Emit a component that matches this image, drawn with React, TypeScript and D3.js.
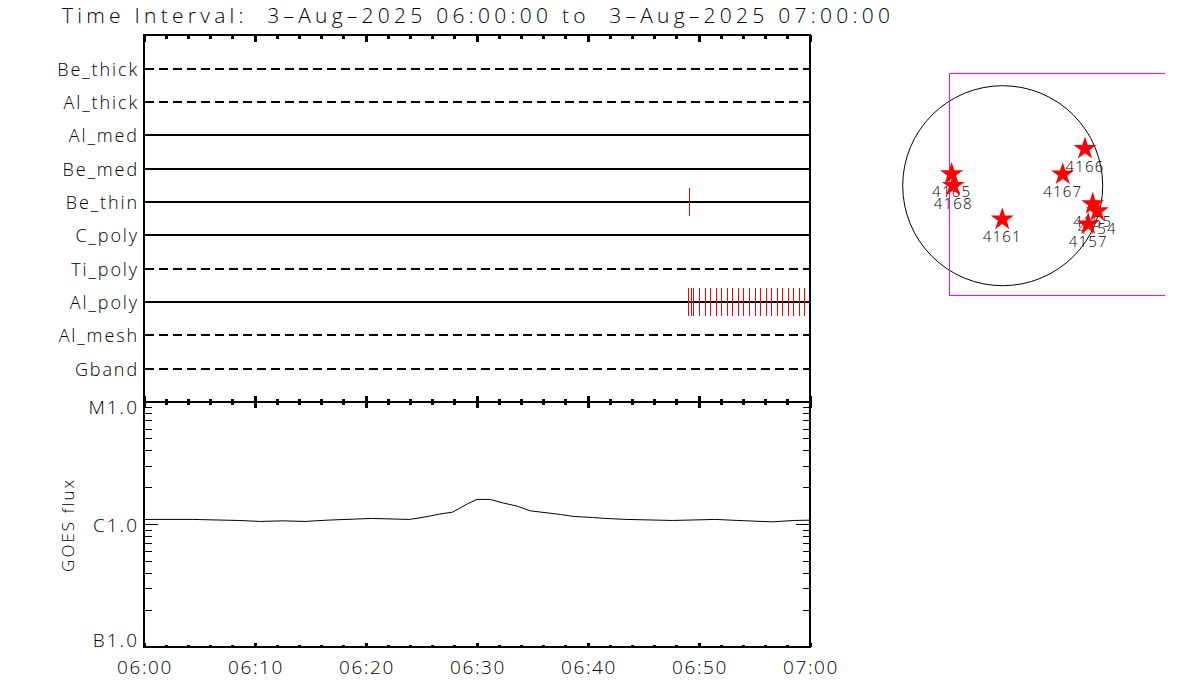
import * as d3 from 'd3';

const filters = ['Be_thick', 'Al_thick', 'Al_med', 'Be_med', 'Be_thin', 'C_poly', 'Ti_poly', 'Al_poly', 'Al_mesh', 'Gband'];
const dashedFilters = ['Be_thick', 'Al_thick', 'Ti_poly', 'Al_mesh', 'Gband'];

// seconds after 06:00 for each exposure
const beThinTimes = [2948];
const alPolyTimes = [2943, 2959, 2970, 3002, 3035, 3062, 3094, 3121, 3154, 3181, 3213, 3240, 3273, 3305, 3332, 3365, 3392, 3424, 3451, 3484, 3511, 3543, 3570];

// GOES flux curve, minutes after 06:00 and W/m2
const goesMinutes = [0, 4.4, 8.5, 10.5, 12.5, 14.5, 16.5, 20.5, 23.9, 24.7, 25.7, 26.6, 27.8, 28.3, 29.1, 30, 31.2, 32.3, 33.6, 34.8, 36.3, 37.5, 38.7, 40.4, 41.5, 43.5, 47.6, 51.5, 53.5, 56.6, 58.6, 60];
const goesFlux = [1.1e-6, 1.1e-6, 1.079e-6, 1.059e-6, 1.071e-6, 1.059e-6, 1.085e-6, 1.121e-6, 1.1e-6, 1.127e-6, 1.17e-6, 1.215e-6, 1.262e-6, 1.335e-6, 1.467e-6, 1.602e-6, 1.602e-6, 1.503e-6, 1.413e-6, 1.293e-6, 1.245e-6, 1.208e-6, 1.163e-6, 1.141e-6, 1.121e-6, 1.1e-6, 1.079e-6, 1.1e-6, 1.079e-6, 1.051e-6, 1.079e-6, 1.085e-6];
const goesLabels = [
  { flux: 1e-5, text: 'M1.0' },
  { flux: 1e-6, text: 'C1.0' },
  { flux: 1e-7, text: 'B1.0' },
];

// active regions on the disk, arcsec from sun centre
const regionIds = ['4165', '4168', '4161', '4167', '4166', '4155', '4154', '4157'];
const regionX = [-485, -470, -4, 570, 782, 855, 899, 812];
const regionY = [120, 10, -310, 118, 361, -164, -231, -356];
const sunRadius = 950;

const title = 'Time Interval:  3\u2013Aug\u20132025 06:00:00 to  3\u2013Aug\u20132025 07:00:00';

const FONT = '"Open Sans", sans-serif';
const WEIGHT = 300;

const start = new Date(Date.UTC(2025, 7, 3, 6, 0, 0));
const end = new Date(Date.UTC(2025, 7, 3, 7, 0, 0));
const atSeconds = (s: number) => new Date(start.getTime() + s * 1000);

export default function App() {
  const left = 144;
  const right = 810;
  const top = 35;
  const mid = 402;
  const bottom = 647;

  const x = d3.scaleUtc().domain([start, end]).range([left, right]);
  const row = d3.scalePoint<string>().domain(filters).range([top + 0.2, mid + 0.2]).padding(1);
  const y = d3.scaleLog().domain([1e-7, 1e-5]).range([bottom, mid]);

  const mapX = d3.scaleLinear().domain([-sunRadius, sunRadius]).range([902.7, 1102.7]);
  const mapY = d3.scaleLinear().domain([-sunRadius, sunRadius]).range([285.7, 85.7]);
  const star = d3.symbol(d3.symbolStar, 165)() as string;

  const majorTicks = x.ticks(d3.utcMinute.every(10)!);
  const minorTicks = x.ticks(d3.utcMinute.every(2)!);
  const fmt = d3.utcFormat('%H:%M');

  const logTicks = d3.range(-7, -5).flatMap(e => d3.range(2, 10).map(m => m * 10 ** e));

  const goesLine = d3.line<number>()
    .x((_, i) => x(atSeconds(goesMinutes[i] * 60)))
    .y(d => y(d))(goesFlux) as string;

  const labelDy = [12, 7, 0];

  return (
    <svg width={1200} height={700} style={{ position: 'absolute', left: 0, top: 0, background: '#fff' }}
      fontFamily={FONT} fontWeight={WEIGHT} fill="#000">
      <text x={62} y={23} fontSize={21} textLength={828} lengthAdjust="spacing" xmlSpace="preserve">{title}</text>

      {/* filter rows */}
      <g shapeRendering="crispEdges">
        {filters.map(f => (
          <line key={f} x1={left + 1} x2={right} y1={row(f)} y2={row(f)} stroke="#000" strokeWidth={2}
            strokeDasharray={dashedFilters.includes(f) ? '9 5' : undefined} />
        ))}
        {beThinTimes.map(t => (
          <line key={t} x1={x(atSeconds(t))} x2={x(atSeconds(t))} y1={row('Be_thin')! - 14} y2={row('Be_thin')! + 14} stroke="#f00" />
        ))}
        {alPolyTimes.map(t => (
          <line key={t} x1={x(atSeconds(t))} x2={x(atSeconds(t))} y1={row('Al_poly')! - 14} y2={row('Al_poly')! + 14} stroke="#f00" />
        ))}
      </g>
      {filters.map(f => (
        <text key={f} x={139} y={row(f)! + 7} fontSize={18} textAnchor="end" letterSpacing={1.9}>{f}</text>
      ))}

      {/* frames */}
      <g shapeRendering="crispEdges" stroke="#000" fill="none" strokeWidth={2}>
        <rect x={left} y={top} width={right - left} height={bottom - top} />
        <line x1={left} x2={right} y1={mid} y2={mid} />
      </g>
      <g shapeRendering="crispEdges" stroke="#000" fill="none" strokeWidth={3}>
        {minorTicks.map(t => (
          <g key={t.getTime()}>
            <line x1={x(t)} x2={x(t)} y1={top} y2={top + 4} />
            <line x1={x(t)} x2={x(t)} y1={mid - 3} y2={mid + 3} />
            <line x1={x(t)} x2={x(t)} y1={bottom - 2} y2={bottom} />
          </g>
        ))}
        {majorTicks.map(t => (
          <g key={t.getTime()}>
            <line x1={x(t)} x2={x(t)} y1={top} y2={top + 7} />
            <line x1={x(t)} x2={x(t)} y1={mid - 6} y2={mid + 6} />
            <line x1={x(t)} x2={x(t)} y1={bottom - 4} y2={bottom} />
          </g>
        ))}
      </g>

      {/* goes panel */}
      <g shapeRendering="crispEdges" stroke="#000" strokeWidth={1}>
        {logTicks.map(v => (
          <g key={v}>
            <line x1={left} x2={left + 7.5} y1={y(v)} y2={y(v)} />
            <line x1={right - 7.5} x2={right} y1={y(v)} y2={y(v)} />
          </g>
        ))}
        <line x1={left} x2={left + 14} y1={y(1e-6)} y2={y(1e-6)} />
        <line x1={right - 14} x2={right} y1={y(1e-6)} y2={y(1e-6)} />
      </g>
      <path d={goesLine} fill="none" stroke="#000" strokeWidth={1} />
      {goesLabels.map((d, i) => (
        <text key={d.text} x={139} y={y(d.flux) + labelDy[i]} fontSize={19} textAnchor="end" letterSpacing={2}>{d.text}</text>
      ))}
      <text transform="translate(74,525) rotate(-90)" textAnchor="middle" fontSize={17} letterSpacing={2}>GOES flux</text>
      {majorTicks.map(t => (
        <text key={t.getTime()} x={x(t) + 1} y={674} fontSize={19} textAnchor="middle" letterSpacing={1.6}>{fmt(t)}</text>
      ))}

      {/* disk map */}
      <circle cx={mapX(0)} cy={mapY(0)} r={mapX(sunRadius) - mapX(0)} fill="none" stroke="#000" strokeWidth={1} />
      <path d="M1165,73.5H949.5V295.5H1165" fill="none" stroke="#f0f" strokeWidth={1} shapeRendering="crispEdges" />
      {regionIds.map((id, i) => (
        <g key={id} transform={`translate(${mapX(regionX[i])},${mapY(regionY[i])})`}>
          <path d={star} fill="#f00" transform="translate(0,1)" />
          <text y={24} textAnchor="middle" fontSize={15} letterSpacing={1.2}>{id}</text>
        </g>
      ))}
    </svg>
  );
}
